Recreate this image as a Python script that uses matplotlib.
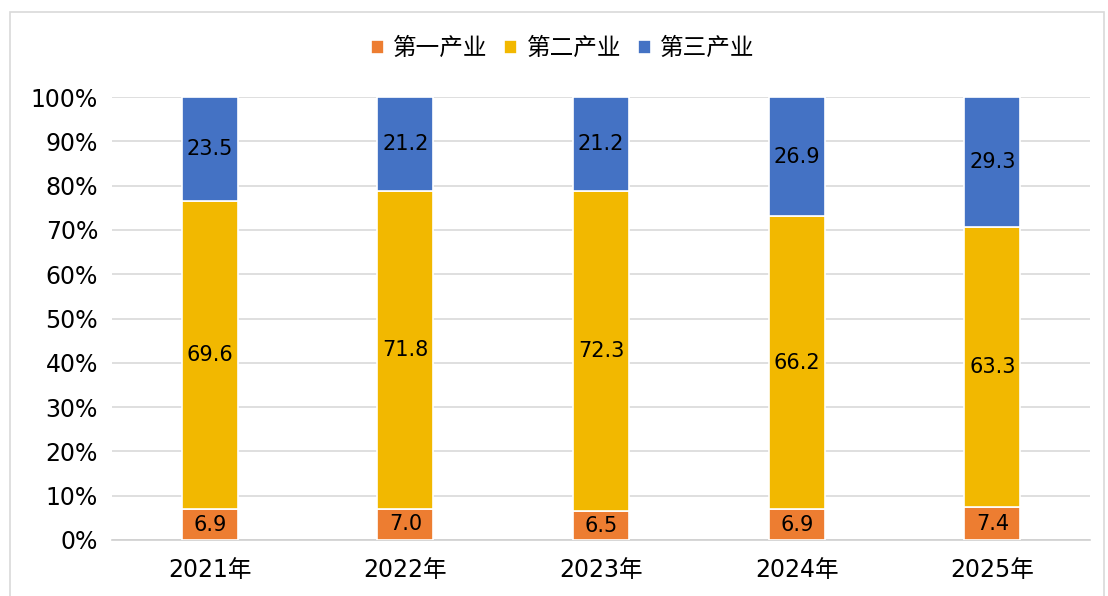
import matplotlib.pyplot as plt
from matplotlib.patches import Rectangle
import numpy as np

plt.rcParams['font.family'] = ['DejaVu Sans', 'Noto Sans CJK SC']

years = ['2021年', '2022年', '2023年', '2024年', '2025年']
primary = [6.9, 7.0, 6.5, 6.9, 7.4]
secondary = [69.6, 71.8, 72.3, 66.2, 63.3]
tertiary = [23.5, 21.2, 21.2, 26.9, 29.3]
series_names = ['第一产业', '第二产业', '第三产业']
colors = ['#ED7D31', '#F2B800', '#4472C4']

fig = plt.figure(figsize=(11.08, 5.96), dpi=100)
ax = fig.add_axes([0.101, 0.094, 0.883, 0.743])

x = np.arange(len(years))
width = 0.286
bottom = np.zeros(len(years))
handles = []
for vals, name, c in zip([primary, secondary, tertiary], series_names, colors):
    vals = np.array(vals)
    bars = ax.bar(x, vals, width, bottom=bottom, color=c, edgecolor='white',
                  linewidth=1.2, label=name, zorder=3)
    for xi, b, v in zip(x, bottom, vals):
        ax.text(xi, b + v / 2, f'{v:.1f}', ha='center', va='center',
                fontsize=15, color='black', zorder=4)
    handles.append(bars)
    bottom += vals

ax.set_xlim(-0.5, 4.5)
ax.set_ylim(0, 100)
ax.set_yticks(range(0, 101, 10))
ax.set_yticklabels([f'{t}%' for t in range(0, 101, 10)], fontsize=17)
ax.set_xticks(x)
ax.set_xticklabels(years, fontsize=17)
ax.tick_params(axis='y', length=0, pad=10)
ax.tick_params(axis='x', length=0, pad=13)
ax.grid(axis='y', color='#D9D9D9', linewidth=1.2, zorder=0)
for s in ['top', 'right', 'left']:
    ax.spines[s].set_visible(False)
ax.spines['bottom'].set_color('#D0D0D0')
ax.spines['bottom'].set_linewidth(1.2)

leg = fig.legend(handles=handles, labels=series_names, loc='center',
                 bbox_to_anchor=(0.508, 0.918), ncol=3, frameon=False,
                 prop={'family': ['Noto Sans CJK SC'], 'size': 17},
                 handlelength=0.55, handleheight=0.55, handletextpad=0.4,
                 columnspacing=0.7)

fig.patches.append(Rectangle((10 / 1108, -0.01), 1094 / 1108, (584 / 596) + 0.01,
                             transform=fig.transFigure, fill=False,
                             edgecolor='#D9D9D9', linewidth=1.2))

fig.savefig('out.png', dpi=100)
plt.close('all')
